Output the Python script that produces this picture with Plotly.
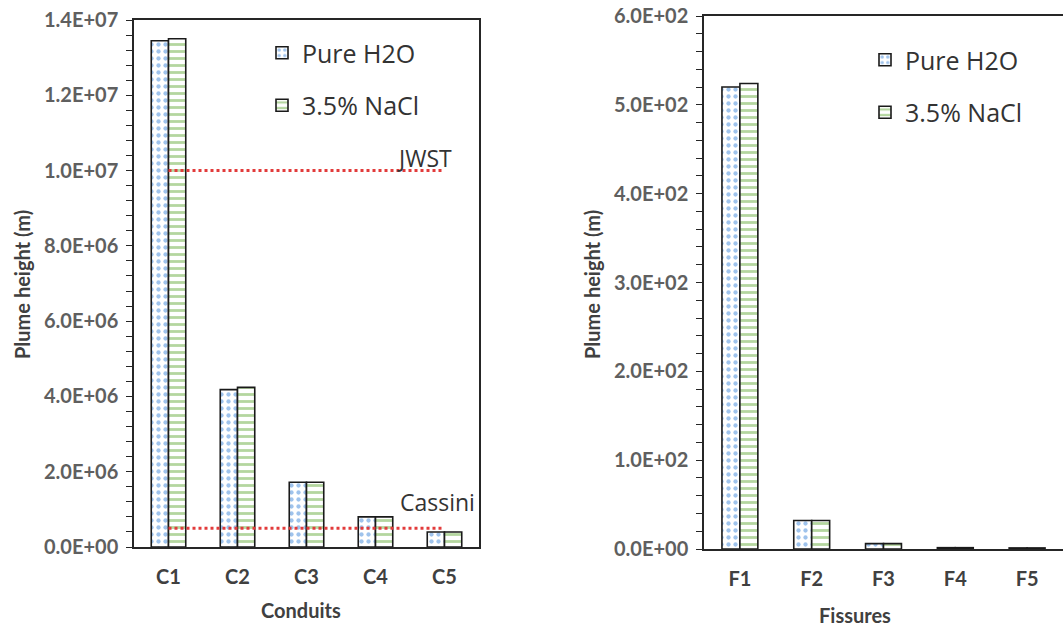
import plotly.graph_objects as go

# ---- data -------------------------------------------------------------
conduits = ["C1", "C2", "C3", "C4", "C5"]
conduit_pure = [1.345e7, 4.18e6, 1.72e6, 8.0e5, 4.0e5]
conduit_nacl = [1.35e7, 4.24e6, 1.72e6, 8.0e5, 4.0e5]

fissures = ["F1", "F2", "F3", "F4", "F5"]
fissure_pure = [520, 32, 6, 1.5, 1.2]
fissure_nacl = [524, 32, 6, 1.5, 1.2]

jwst_limit = 1.0e7
cassini_limit = 5.0e5

left_tickvals = [0, 2e6, 4e6, 6e6, 8e6, 1.0e7, 1.2e7, 1.4e7]
left_ticktext = ["0.0E+00", "2.0E+06", "4.0E+06", "6.0E+06", "8.0E+06",
                 "1.0E+07", "1.2E+07", "1.4E+07"]
right_tickvals = [0, 100, 200, 300, 400, 500, 600]
right_ticktext = ["0.0E+00", "1.0E+02", "2.0E+02", "3.0E+02", "4.0E+02",
                  "5.0E+02", "6.0E+02"]

# ---- styling ----------------------------------------------------------
W, H = 1063, 628
BLUE = "#3F88DA"
GREEN = "#6AAE3F"
RED = "#E23B3B"
AXIS = "#262626"
TICK_GRAY = "#5F5F5F"
DARK = "#404040"
BOLD_FONT = "Lato"
TEXT_FONT = "Open Sans"


def px_x(p):
    return p / W


def px_y(p):
    return 1 - p / H


dots = dict(shape=".", fgcolor=BLUE, bgcolor="white", size=7, solidity=0.3)
stripes = dict(shape="-", fgcolor=GREEN, bgcolor="white", size=7, solidity=0.4)
outline = dict(color="#1a1a1a", width=1.6)

fig = go.Figure()

# left panel: conduits
fig.add_trace(go.Bar(x=conduits, y=conduit_pure, name="Pure H2O",
                     marker=dict(color="white", pattern=dots, line=outline),
                     xaxis="x", yaxis="y", legend="legend", legendgroup="a"))
fig.add_trace(go.Bar(x=conduits, y=conduit_nacl, name="3.5% NaCl",
                     marker=dict(color="white", pattern=stripes, line=outline),
                     xaxis="x", yaxis="y", legend="legend", legendgroup="b"))
for level in (jwst_limit, cassini_limit):
    fig.add_trace(go.Scatter(x=[conduits[0], conduits[-1]], y=[level, level],
                             mode="lines", showlegend=False, hoverinfo="skip",
                             line=dict(color=RED, width=3, dash="dot"),
                             xaxis="x", yaxis="y"))

# right panel: fissures
fig.add_trace(go.Bar(x=fissures, y=fissure_pure, name="Pure H2O",
                     marker=dict(color="white", pattern=dots, line=outline),
                     xaxis="x2", yaxis="y2", legend="legend2", legendgroup="c"))
fig.add_trace(go.Bar(x=fissures, y=fissure_nacl, name="3.5% NaCl",
                     marker=dict(color="white", pattern=stripes, line=outline),
                     xaxis="x2", yaxis="y2", legend="legend2", legendgroup="d"))

xaxis_common = dict(type="category", range=[-0.5, 4.5], showline=True,
                    linecolor=AXIS, linewidth=1.5, mirror=True, ticks="",
                    showgrid=False, zeroline=False, ticklabelstandoff=11,
                    automargin=False,
                    tickfont=dict(family=BOLD_FONT, size=20, color=DARK,
                                  weight="bold"))
yaxis_common = dict(showline=True, linecolor=AXIS, linewidth=1.5, mirror=True,
                    ticks="outside", ticklen=6, tickwidth=1.3, tickcolor=AXIS,
                    showgrid=False, zeroline=False, ticklabelstandoff=4,
                    automargin=False,
                    tickfont=dict(family=BOLD_FONT, size=20, color=TICK_GRAY,
                                  weight="bold"))

fig.update_layout(
    width=W, height=H,
    margin=dict(l=0, r=0, t=0, b=0, autoexpand=False),
    paper_bgcolor="white", plot_bgcolor="white",
    barmode="group", bargap=0.5, bargroupgap=0,
    showlegend=True,
    xaxis=dict(xaxis_common, domain=[px_x(134), px_x(479)], anchor="y"),
    yaxis=dict(yaxis_common, domain=[px_y(547), px_y(20)], anchor="x",
               range=[0, 1.4e7], tickvals=left_tickvals,
               ticktext=left_ticktext,
               minor=dict(dtick=4e5, ticks="outside", ticklen=6,
                          tickcolor=AXIS, tickwidth=1.3)),
    xaxis2=dict(xaxis_common, domain=[px_x(704), 1.0], anchor="y2"),
    yaxis2=dict(yaxis_common, domain=[px_y(549), px_y(16)], anchor="x2",
                range=[0, 600], tickvals=right_tickvals,
                ticktext=right_ticktext,
                minor=dict(dtick=20, ticks="outside", ticklen=6,
                           tickcolor=AXIS, tickwidth=1.3)),
    legend=dict(x=px_x(262), y=px_y(30), xanchor="left", yanchor="top",
                bgcolor="rgba(0,0,0,0)", tracegroupgap=17,
                font=dict(family=TEXT_FONT, size=25, color="#333333")),
    legend2=dict(x=px_x(865), y=px_y(37), xanchor="left", yanchor="top",
                 bgcolor="rgba(0,0,0,0)", tracegroupgap=17,
                 font=dict(family=TEXT_FONT, size=25, color="#333333")),
)

title_font = dict(family=BOLD_FONT, size=20, color=DARK, weight="bold")
label_font = dict(family=TEXT_FONT, size=23, color="#333333")
annotations = [
    dict(text="Plume height (m)", x=px_x(22), y=px_y(285), textangle=-90,
         font=title_font),
    dict(text="Plume height (m)", x=px_x(592), y=px_y(285), textangle=-90,
         font=title_font),
    dict(text="Conduits", x=px_x(301), y=px_y(610), font=title_font),
    dict(text="Fissures", x=px_x(855), y=px_y(615), font=title_font),
    dict(text="JWST", x=px_x(424), y=px_y(158), font=label_font),
    dict(text="Cassini", x=px_x(437), y=px_y(502), font=label_font),
]
for a in annotations:
    a.update(xref="paper", yref="paper", showarrow=False,
             xanchor="center", yanchor="middle")
fig.update_layout(annotations=annotations)

fig.write_html("out.html")
